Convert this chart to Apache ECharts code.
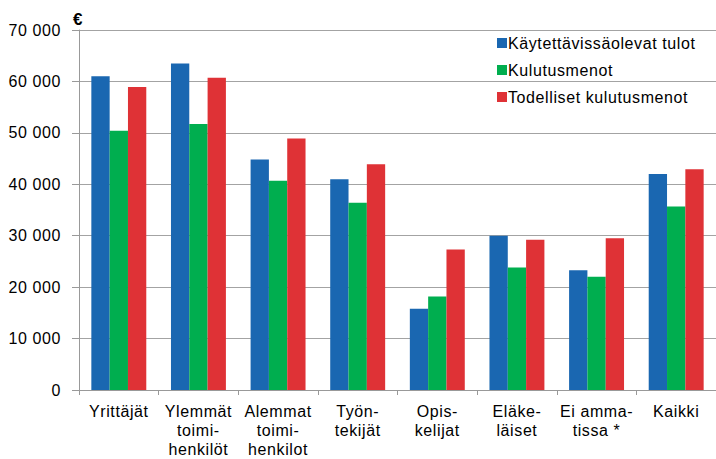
<!DOCTYPE html>
<html>
<head>
<meta charset="utf-8">
<script src="https://cdn.jsdelivr.net/npm/echarts@6/dist/echarts.min.js"></script>
<style>
html,body{margin:0;padding:0;background:#fff;}
#chart{width:716px;height:459px;}
#chart svg text{letter-spacing:0.6px;}
</style>
</head>
<body>
<div id="chart"></div>
<script>
var categories = ["Yrittäjät", "Ylemmät\ntoimi-\nhenkilöt", "Alemmat\ntoimi-\nhenkilot", "Työn-\ntekijät", "Opis-\nkelijat", "Eläke-\nläiset", "Ei amma-\ntissa *", "Kaikki"];
var seriesNames = ["Käytettävissäolevat tulot", "Kulutusmenot", "Todelliset kulutusmenot"];
var kaytettavissa = [61000, 63500, 44800, 41000, 15800, 30000, 23300, 42000];
var kulutusmenot = [50400, 51700, 40700, 36400, 18200, 23800, 22000, 35700];
var todelliset = [58900, 60700, 48900, 43900, 27300, 29200, 29500, 42900];
var yTicks = [0, 10000, 20000, 30000, 40000, 50000, 60000, 70000];
var colors = ["#1a67b1", "#00ae4f", "#df3236"];

var font = "'Liberation Sans', Arial, sans-serif";
var chart = echarts.init(document.getElementById('chart'), null, {renderer: 'svg'});
var seriesData = [kaytettavissa, kulutusmenot, todelliset];
chart.setOption({
  animation: false,
  color: colors,
  textStyle: {fontFamily: font},
  grid: {left: 79, top: 30, width: 642, bottom: 69, containLabel: false},
  graphic: [{type: 'text', left: 73, top: 11, style: {text: '€', font: 'bold 17px ' + font, fill: '#000'}}],
  legend: {
    orient: 'vertical', left: 492, top: 30, itemGap: 11,
    itemWidth: 10, itemHeight: 10, icon: 'rect', itemStyle: {borderWidth: 0},
    textStyle: {fontSize: 16, color: '#000', fontFamily: font, padding: [0, 0, 0, -4]},
    data: seriesNames
  },
  xAxis: {
    type: 'category', data: categories,
    axisLine: {lineStyle: {color: '#999', width: 1}},
    axisTick: {show: true, length: 5, lineStyle: {color: '#999'}},
    axisLabel: {fontSize: 16, color: '#000', lineHeight: 19, margin: 12, interval: 0, fontFamily: font}
  },
  yAxis: {
    type: 'value', min: yTicks[0], max: yTicks[yTicks.length - 1], interval: 10000,
    axisLine: {show: true, lineStyle: {color: '#999', width: 1}},
    axisTick: {show: true, length: 7, lineStyle: {color: '#999'}},
    splitLine: {lineStyle: {color: '#a3a3a3', width: 1}},
    axisLabel: {fontSize: 16, color: '#000', margin: 18, fontFamily: font,
      formatter: function (v) { return v === 0 ? '0' : String(v).replace(/\B(?=(\d{3})+(?!\d))/g, ' '); }}
  },
  series: seriesNames.map(function (n, i) {
    return {name: n, type: 'bar', data: seriesData[i], barGap: '0%', barCategoryGap: '31%',
      itemStyle: {color: colors[i]}};
  })
});
</script>
</body>
</html>
